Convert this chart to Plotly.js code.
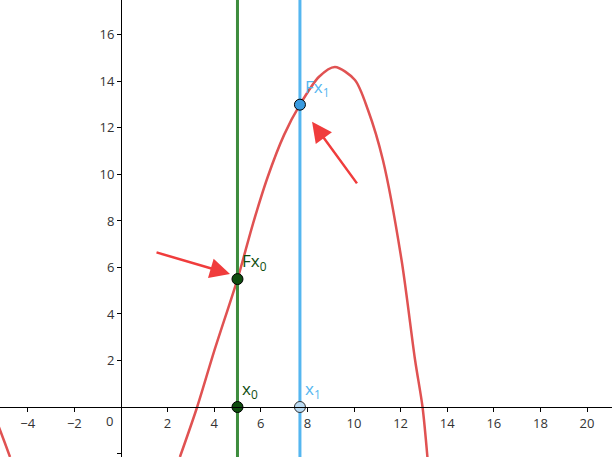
<!DOCTYPE html>
<html><head><meta charset="utf-8">
<script src="https://cdn.plot.ly/plotly-3.0.1.min.js"></script>
<style>body{margin:0}#plot{width:612px;height:457px}</style>
</head><body><div id="plot"></div>
<script>
// curve points
var curveX = [2.53, 3.27, 4.0, 5.0, 5.67, 6.3, 7.0, 7.68, 8.5, 9.18, 10.04, 10.6, 11.24, 12.04, 12.62, 12.94, 13.15];
var curveY = [-2.15, 0, 2.4, 5.5, 7.9, 9.9, 11.7, 13.0, 14.2, 14.62, 14.06, 12.77, 10.62, 6.32, 2.02, 0, -2.15];
var leftX = [-5.3, -5.19, -4.98, -4.76];
var leftY = [-0.7, -0.99, -1.55, -2.15];
var x0 = 5, fx0 = 5.5, x1 = 7.68, fx1 = 13;
var xTicks = [-4, -2, 2, 4, 6, 8, 10, 12, 14, 16, 18, 20];
var yTicks = [-2, 2, 4, 6, 8, 10, 12, 14, 16];
var xr = [-5.19, 21.07], yr = [-2.15, 17.5];

var red = '#e05252', green = '#3d8c3d', dkgreen = '#0f4d0f', blue = '#55b6f0';
var data = [
  {x: curveX, y: curveY, mode: 'lines', line: {color: red, width: 2.5, shape: 'spline', smoothing: 0.8}},
  {x: leftX, y: leftY, mode: 'lines', line: {color: red, width: 2.5, shape: 'spline'}},
  {x: [x0, x0], y: yr, mode: 'lines', line: {color: green, width: 3}},
  {x: [x1, x1], y: yr, mode: 'lines', line: {color: blue, width: 3}},
  {x: [x0, x0], y: [0, fx0], mode: 'markers', marker: {color: dkgreen, size: 11, line: {color: '#000', width: 1}}},
  {x: [x1], y: [fx1], mode: 'markers', marker: {color: '#3a9be0', size: 11, line: {color: '#000', width: 1}}},
  {x: [x1], y: [0], mode: 'markers', marker: {color: '#bcdcf4', size: 11, line: {color: '#333', width: 1}}}
];
function lab(x, y, t, c) {
  return {x: x, y: y, text: t, showarrow: false, xanchor: 'left', yanchor: 'bottom',
    xshift: 3, yshift: 3, font: {family: 'Open Sans', size: 17, color: c}};
}
var anns = [
  lab(x0, fx0, 'Fx<sub>0</sub>', dkgreen),
  lab(x0, 0, 'x<sub>0</sub>', dkgreen),
  lab(x1, fx1, 'Fx<sub>1</sub>', blue),
  lab(x1, 0, 'x<sub>1</sub>', blue),
  {x: 0, y: 0, text: '0', showarrow: false, xanchor: 'right', yanchor: 'top', xshift: -6, yshift: -3,
    font: {family: 'Open Sans', size: 13, color: '#333'}},
  {x: 4.68, y: 5.72, ax: -75, ay: -22, showarrow: true, arrowhead: 2, arrowsize: 1.6,
    arrowwidth: 2.5, arrowcolor: '#f03c3c', text: ''},
  {x: 8.2, y: 12.26, ax: 46, ay: 63, showarrow: true, arrowhead: 2, arrowsize: 1.6,
    arrowwidth: 2.5, arrowcolor: '#f03c3c', text: ''}
];
var layout = {
  width: 612, height: 457, margin: {t: 0, b: 0, l: 0, r: 0},
  paper_bgcolor: '#fff', plot_bgcolor: '#fff', showlegend: false,
  font: {family: 'Open Sans', size: 13, color: '#333'},
  xaxis: {range: xr, showgrid: false, zeroline: false, showline: true, linecolor: '#000', linewidth: 1.5,
    anchor: 'free', position: (0 - yr[0]) / (yr[1] - yr[0]),
    tickvals: xTicks, ticks: 'outside', ticklen: 4, tickcolor: '#000'},
  yaxis: {range: yr, showgrid: false, zeroline: false, showline: true, linecolor: '#000', linewidth: 1.5,
    anchor: 'free', position: (0 - xr[0]) / (xr[1] - xr[0]),
    tickvals: yTicks, ticks: 'outside', ticklen: 4, tickcolor: '#000'},
  annotations: anns
};
Plotly.newPlot('plot', data, layout, {staticPlot: true, displayModeBar: false});
</script></body></html>
